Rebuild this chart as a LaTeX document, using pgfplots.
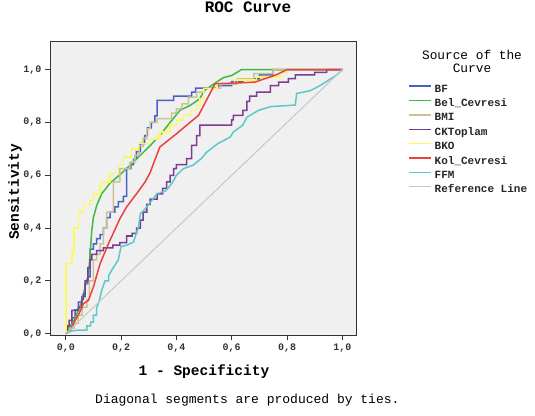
\documentclass[border=0pt]{standalone}
\usepackage{fontspec}
\setmainfont{Liberation Mono}
\usepackage{pgfplots}
\pgfplotsset{compat=1.18}
\definecolor{bgc}{RGB}{240,240,240}
\definecolor{cBF}{RGB}{72,96,200}
\definecolor{cBel}{RGB}{64,186,64}
\definecolor{cBMI}{RGB}{202,194,150}
\definecolor{cCK}{RGB}{123,60,150}
\definecolor{cBKO}{RGB}{250,250,90}
\definecolor{cKol}{RGB}{235,64,60}
\definecolor{cFFM}{RGB}{92,200,200}
\definecolor{cRef}{RGB}{200,200,200}
\begin{document}
\begin{tikzpicture}[x=1pt,y=1pt]
\path[use as bounding box] (0,0) rectangle (535,415);
\begin{axis}[
  at={(50pt,80pt)}, anchor=south west,
  scale only axis, width=306.7pt, height=293.3pt,
  xmin=-0.057, xmax=1.052, ymin=-0.005, ymax=1.106,
  axis background/.style={fill=bgc},
  axis line style={black!80, line width=0.8pt},
  xtick={0,0.2,0.4,0.6,0.8,1}, ytick={0,0.2,0.4,0.6,0.8,1},
  xtick pos=bottom, ytick pos=left,
  tick align=outside, major tick length=5pt,
  tick style={black!80, line width=0.8pt},
  ticklabel style={font=\bfseries\fontsize{10}{12}\selectfont, text=black!80},
  /pgf/number format/fixed, /pgf/number format/fixed zerofill,
  /pgf/number format/precision=1, /pgf/number format/use comma,
  /pgf/number format/assume math mode=true,
  every axis plot/.append style={line width=1.5pt, no marks, sharp plot},
  legend cell align=left,
  legend image code/.code={\draw[#1] (0pt,3pt) -- (22pt,3pt);},
  legend style={at={(axis description cs:1.169,0.856)}, anchor=north west,
    draw=none, fill=none, inner sep=0pt, row sep=4.4pt,
    font=\bfseries\fontsize{11}{13}\selectfont, text=black!85,
    nodes={inner xsep=2.5pt, inner ysep=0pt, text height=8pt, text depth=2pt}},
]
% BF
\addplot[color=cBF] coordinates {
(0,0)(0.01,0.01)(0.01,0.03)(0.022,0.03)(0.022,0.06)(0.034,0.06)(0.034,0.09)(0.046,0.09)(0.046,0.12)(0.058,0.12)(0.058,0.14)(0.07,0.14)(0.07,0.19)(0.08,0.19)(0.08,0.215)(0.088,0.215)(0.088,0.32)(0.1,0.32)(0.1,0.34)(0.112,0.34)(0.112,0.36)(0.124,0.36)(0.124,0.375)(0.136,0.375)(0.136,0.40)(0.148,0.40)(0.148,0.44)(0.16,0.44)(0.16,0.46)(0.178,0.46)(0.178,0.48)(0.19,0.48)(0.19,0.50)(0.208,0.50)(0.208,0.52)(0.22,0.52)(0.22,0.625)(0.235,0.625)(0.235,0.64)(0.245,0.64)(0.245,0.66)(0.255,0.66)(0.255,0.69)(0.27,0.69)(0.27,0.72)(0.285,0.72)(0.285,0.75)(0.295,0.75)(0.295,0.78)(0.31,0.78)(0.31,0.80)(0.322,0.80)(0.322,0.825)(0.33,0.825)(0.33,0.884)(0.39,0.884)(0.39,0.90)(0.455,0.90)(0.455,0.915)(0.47,0.915)(0.47,0.93)(0.55,0.93)(0.55,0.94)(0.6,0.94)(0.6,0.955)(0.64,0.955)(0.64,0.965)(0.7,0.965)(0.7,0.98)(0.75,0.98)(0.75,1.0)(1,1)
};
\addlegendentry{BF}
% Bel_Cevresi
\addplot[color=cBel] coordinates {
(0,0)(0.01,0.02)(0.03,0.05)(0.05,0.10)(0.064,0.15)(0.075,0.2)(0.082,0.22)(0.088,0.3)(0.09,0.33)(0.094,0.39)(0.1,0.44)(0.112,0.486)(0.13,0.53)(0.16,0.57)(0.2,0.606)(0.257,0.663)(0.3,0.707)(0.34,0.75)(0.377,0.80)(0.413,0.846)(0.45,0.865)(0.485,0.89)(0.5,0.92)(0.534,0.945)(0.57,0.97)(0.6,0.978)(0.635,1.0)(1,1)
};
\addlegendentry{Bel\_Cevresi}
% BMI
\addplot[color=cBMI] coordinates {
(0,0)(0.015,0.01)(0.015,0.02)(0.03,0.02)(0.03,0.04)(0.045,0.04)(0.045,0.07)(0.06,0.07)(0.06,0.10)(0.076,0.10)(0.076,0.13)(0.085,0.13)(0.085,0.2)(0.1,0.2)(0.1,0.28)(0.112,0.28)(0.112,0.30)(0.124,0.30)(0.124,0.34)(0.136,0.34)(0.136,0.40)(0.148,0.40)(0.148,0.46)(0.172,0.46)(0.172,0.575)(0.196,0.575)(0.196,0.625)(0.232,0.625)(0.232,0.65)(0.25,0.65)(0.25,0.675)(0.265,0.675)(0.265,0.71)(0.28,0.71)(0.28,0.74)(0.293,0.74)(0.293,0.777)(0.305,0.777)(0.305,0.80)(0.33,0.80)(0.33,0.815)(0.383,0.815)(0.383,0.835)(0.40,0.835)(0.40,0.852)(0.42,0.852)(0.42,0.87)(0.443,0.87)(0.443,0.896)(0.473,0.896)(0.473,0.915)(0.5,0.915)(0.5,0.93)(0.56,0.93)(0.56,0.945)(0.62,0.945)(0.62,0.965)(0.68,0.965)(0.68,0.985)(0.75,0.985)(0.75,1.0)(1,1)
};
\addlegendentry{BMI}
% CKToplam
\addplot[color=cCK] coordinates {
(0,0)(0.005,0.01)(0.005,0.03)(0.012,0.03)(0.012,0.05)(0.022,0.05)(0.022,0.088)(0.046,0.088)(0.046,0.1)(0.058,0.1)(0.058,0.13)(0.064,0.13)(0.064,0.15)(0.07,0.15)(0.07,0.2)(0.08,0.2)(0.08,0.25)(0.088,0.25)(0.088,0.28)(0.094,0.28)(0.094,0.30)(0.112,0.30)(0.112,0.315)(0.136,0.315)(0.136,0.325)(0.17,0.325)(0.17,0.335)(0.196,0.335)(0.196,0.345)(0.22,0.345)(0.22,0.37)(0.24,0.37)(0.24,0.38)(0.256,0.38)(0.256,0.40)(0.27,0.40)(0.27,0.43)(0.28,0.43)(0.28,0.46)(0.293,0.46)(0.293,0.49)(0.305,0.49)(0.305,0.51)(0.33,0.51)(0.33,0.53)(0.35,0.53)(0.35,0.55)(0.365,0.55)(0.365,0.575)(0.377,0.575)(0.377,0.6)(0.39,0.6)(0.39,0.625)(0.40,0.625)(0.40,0.64)(0.437,0.64)(0.437,0.663)(0.455,0.663)(0.455,0.713)(0.473,0.713)(0.473,0.75)(0.485,0.75)(0.485,0.79)(0.6,0.79)(0.6,0.81)(0.606,0.81)(0.606,0.827)(0.64,0.827)(0.64,0.846)(0.655,0.846)(0.655,0.88)(0.665,0.88)(0.665,0.9)(0.69,0.9)(0.69,0.915)(0.74,0.915)(0.74,0.94)(0.77,0.94)(0.77,0.953)(0.805,0.953)(0.805,0.966)(0.83,0.966)(0.83,0.98)(0.9,0.98)(0.9,0.99)(0.943,0.99)(0.943,1.0)(1,1)
};
\addlegendentry{CKToplam}
% BKO
\addplot[color=cBKO] coordinates {
(0,0)(0,0.265)(0.022,0.265)(0.022,0.31)(0.03,0.31)(0.03,0.40)(0.046,0.40)(0.046,0.46)(0.064,0.46)(0.064,0.49)(0.088,0.49)(0.088,0.505)(0.10,0.505)(0.10,0.53)(0.124,0.53)(0.124,0.56)(0.13,0.56)(0.13,0.575)(0.16,0.575)(0.16,0.606)(0.19,0.606)(0.19,0.64)(0.208,0.64)(0.208,0.67)(0.238,0.67)(0.238,0.70)(0.263,0.70)(0.263,0.72)(0.3,0.72)(0.3,0.735)(0.33,0.735)(0.33,0.745)(0.34,0.745)(0.34,0.764)(0.377,0.764)(0.377,0.79)(0.40,0.79)(0.40,0.81)(0.425,0.81)(0.425,0.827)(0.455,0.827)(0.455,0.846)(0.473,0.846)(0.473,0.865)(0.486,0.865)(0.486,0.89)(0.498,0.89)(0.498,0.928)(0.546,0.928)(0.546,0.947)(0.61,0.947)(0.61,0.96)(0.69,0.96)(0.69,0.972)(0.775,0.972)(0.775,0.99)(0.80,0.99)(0.80,1.0)(1,1)
};
\addlegendentry{BKO}
% Kol_Cevresi
\addplot[color=cKol] coordinates {
(0,0)(0.016,0.013)(0.034,0.05)(0.05,0.08)(0.064,0.114)(0.082,0.126)(0.1,0.177)(0.124,0.265)(0.154,0.34)(0.196,0.436)(0.22,0.48)(0.256,0.53)(0.287,0.575)(0.305,0.61)(0.34,0.707)(0.40,0.757)(0.48,0.827)(0.54,0.947)(0.63,0.95)(0.684,0.953)(0.76,0.98)(0.80,1.0)(1,1)
};
\addlegendentry{Kol\_Cevresi}
% FFM
\addplot[color=cFFM] coordinates {
(0,0)(0.02,0.01)(0.04,0.013)(0.076,0.013)(0.076,0.03)(0.09,0.03)(0.09,0.044)(0.1,0.044)(0.1,0.07)(0.112,0.07)(0.112,0.1)(0.12,0.12)(0.13,0.164)(0.142,0.2)(0.155,0.2)(0.155,0.22)(0.166,0.24)(0.178,0.26)(0.19,0.28)(0.2,0.33)(0.22,0.335)(0.245,0.347)(0.255,0.38)(0.263,0.404)(0.27,0.455)(0.285,0.47)(0.3,0.49)(0.33,0.53)(0.36,0.54)(0.377,0.56)(0.39,0.58)(0.4,0.6)(0.425,0.625)(0.46,0.638)(0.49,0.663)(0.51,0.688)(0.55,0.72)(0.595,0.745)(0.606,0.764)(0.64,0.79)(0.655,0.82)(0.697,0.846)(0.74,0.86)(0.83,0.866)(0.835,0.91)(0.883,0.92)(0.92,0.94)(0.95,0.96)(0.98,0.98)(1,1)
};
\addlegendentry{FFM}
% Reference line
\addplot[color=cRef, line width=1pt] coordinates {(0,0)(1,1)};
\addlegendentry{Reference Line}
\end{axis}
\node[font=\bfseries\fontsize{16}{18}\selectfont] at (248,408) {ROC Curve};
\node[rotate=90, font=\bfseries\fontsize{14.5}{16}\selectfont] at (15,223) {Sensitivity};
\node[font=\bfseries\fontsize{14.5}{16}\selectfont] at (204,43) {1 - Specificity};
\node[anchor=west, font=\fontsize{13}{15}\selectfont, inner sep=0pt] at (95,15) {Diagonal segments are produced by ties.};
\node[align=center, font=\fontsize{12.8}{13}\selectfont] at (472,353.5) {Source of the\\Curve};
\end{tikzpicture}
\end{document}
